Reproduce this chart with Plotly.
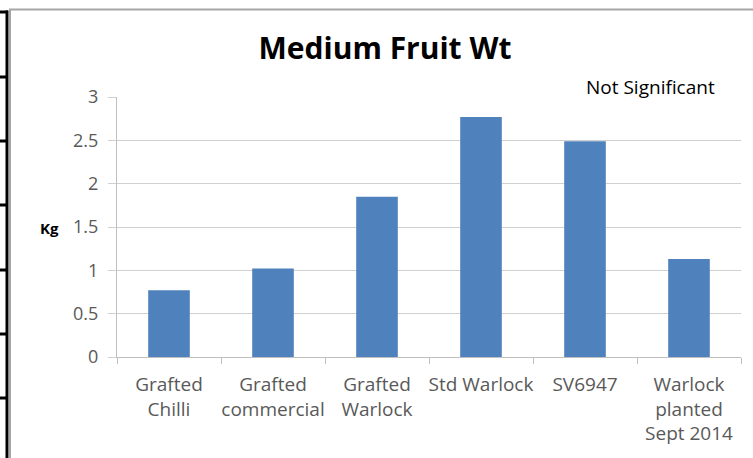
import plotly.graph_objects as go

categories = ["Grafted<br>Chilli", "Grafted<br>commercial", "Grafted<br>Warlock",
              "Std Warlock", "SV6947", "Warlock<br>planted<br>Sept 2014"]
weights = [0.77, 1.02, 1.85, 2.77, 2.49, 1.13]
y_ticks = [0, 0.5, 1, 1.5, 2, 2.5, 3]
y_tick_labels = ["0", "0.5", "1", "1.5", "2", "2.5", "3"]

W, H = 753, 458
L, R, T, B = 117, 12, 97, 101
pw, ph = W - L - R, H - T - B


def px(x):
    return (x - L) / pw


def py(y):
    return (H - B - y) / ph


FONT = "Open Sans, sans-serif"

fig = go.Figure(go.Bar(
    x=categories, y=weights,
    marker=dict(color="#4F81BD", line=dict(width=0)),
    width=0.4,
))

shapes = [
    # chart frame
    dict(type="rect", xref="paper", yref="paper",
         x0=px(10), x1=px(770), y0=py(9.5), y1=py(480),
         line=dict(color="#a6a6a6", width=2), layer="below"),
    # black left border from the page
    dict(type="line", xref="paper", yref="paper",
         x0=px(7), x1=px(7), y0=py(10.5), y1=py(470),
         line=dict(color="black", width=3)),
]
for yy in [12, 77, 141, 205, 270, 334, 398]:
    shapes.append(dict(type="line", xref="paper", yref="paper",
                       x0=px(-2), x1=px(8), y0=py(yy), y1=py(yy),
                       line=dict(color="black", width=3)))

fig.update_layout(
    width=W, height=H,
    margin=dict(l=L, r=R, t=T, b=B),
    paper_bgcolor="white", plot_bgcolor="white",
    showlegend=False,
    font=dict(family=FONT, size=18, color="#595959"),
    title=dict(text="<b>Medium Fruit Wt</b>", x=(385 / W), xanchor="center",
               y=1 - 48 / H, yanchor="middle",
               font=dict(family=FONT, size=30, color="black")),
    xaxis=dict(showline=True, linecolor="#bfbfbf", linewidth=1,
               ticks="outside", tickson="boundaries", ticklen=6, tickcolor="#bfbfbf",
               ticklabelstandoff=10, tickangle=0, automargin=False,
               tickfont=dict(size=19, color="#595959"), showgrid=False),
    yaxis=dict(range=[0, 3], tickvals=y_ticks, ticktext=y_tick_labels,
               showline=True, linecolor="#bfbfbf", linewidth=1,
               showgrid=True, gridcolor="#d0d0d0", gridwidth=1,
               ticks="outside", ticklen=8, tickcolor="#d0d0d0",
               ticklabelstandoff=6, automargin=False,
               tickfont=dict(size=18, color="#595959"), zeroline=False),
    shapes=shapes,
    annotations=[
        dict(text="Not Significant", xref="paper", yref="paper",
             x=px(650), y=py(87), xanchor="center", yanchor="middle",
             showarrow=False, font=dict(family=FONT, size=19, color="black")),
        dict(text="<b>Kg</b>", xref="paper", yref="paper",
             x=px(49), y=py(228), xanchor="center", yanchor="middle",
             showarrow=False, font=dict(family=FONT, size=15, color="black")),
    ],
)

fig.write_html("out.html", config={"displayModeBar": False},
               post_script="document.body.style.margin='0';document.body.style.overflow='hidden';")
